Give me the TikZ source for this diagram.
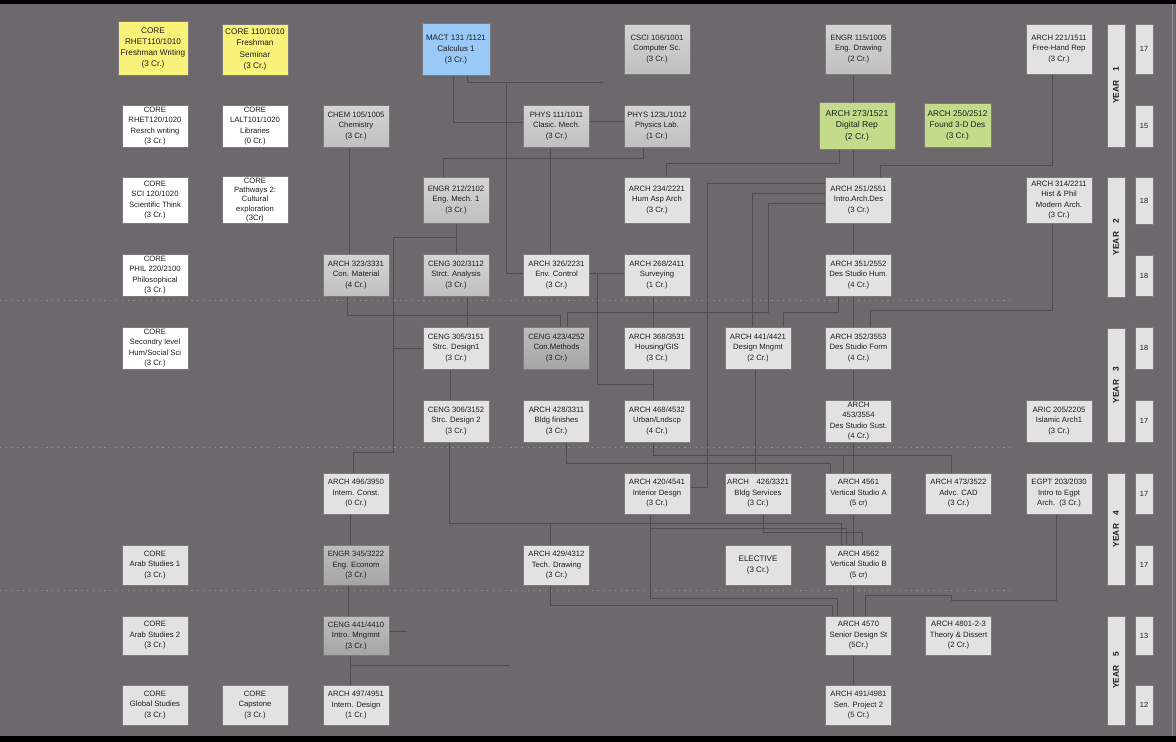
\documentclass[tikz,border=0pt]{standalone}
\usepackage{fontspec}
\setmainfont{Liberation Sans}
\usetikzlibrary{positioning}
\definecolor{canvas}{RGB}{109,104,108}
\definecolor{wire}{RGB}{80,76,80}
\definecolor{sepc}{RGB}{150,146,150}
\definecolor{edge}{RGB}{125,122,125}
\definecolor{ink}{RGB}{30,30,30}
\definecolor{lite}{RGB}{226,226,226}
\definecolor{midtop}{RGB}{212,212,212}
\definecolor{midbot}{RGB}{192,192,192}
\definecolor{darktop}{RGB}{190,190,190}
\definecolor{darkbot}{RGB}{165,165,165}
\definecolor{yel}{RGB}{248,242,122}
\definecolor{blu}{RGB}{153,201,247}
\definecolor{grn}{RGB}{196,219,140}
\pgfdeclarelayer{back}
\pgfdeclarelayer{wires}
\pgfsetlayers{back,wires,main}

\begin{document}
\begin{tikzpicture}[x=1pt, y=-1pt,
  box/.style={draw=edge, line width=0.5pt, minimum width=66pt, minimum height=42pt,
    inner sep=1pt, align=center, text=ink, font=\fontsize{7.7}{10.5}\selectfont},
  corebox/.style={box, fill=white},
  litebox/.style={box, fill=lite},
  graybox/.style={box, top color=midtop, bottom color=midbot},
  darkbox/.style={box, top color=darktop, bottom color=darkbot},
  yelbox/.style={box, fill=yel, font=\fontsize{8.2}{11.3}\selectfont},
  bluebox/.style={box, fill=blu, font=\fontsize{8}{11}\selectfont},
  greenbox/.style={box, fill=grn, font=\fontsize{8.6}{11.6}\selectfont},
  yearbar/.style={fill=lite, draw=edge, line width=0.5pt, rotate=90, minimum height=18pt,
    inner sep=0pt, text=ink, font=\bfseries\fontsize{8.4}{9}\selectfont},
  credbox/.style={fill=lite, draw=edge, line width=0.5pt, minimum width=18pt, inner sep=0pt,
    text=ink, font=\fontsize{7.4}{9}\selectfont},
  link/.style={draw=wire, line width=1pt},
  sep/.style={draw=sepc, line width=1pt, dash pattern=on 1.2pt off 4.6pt}
]
\useasboundingbox (0,0) rectangle (1176,742);

%% Year 1
\node[yelbox, minimum width=70pt, minimum height=54pt] (rhetA) at (153,48) {CORE\\RHET110/1010\\Freshman Writing\\(3 Cr.)};
\node[yelbox, minimum height=51pt] (semA) at (255,49.5) {CORE 110/1010\\Freshman\\Seminar\\(3 Cr.)};
\node[bluebox, minimum width=68pt, minimum height=52pt] (mact) at (456,49) {MACT 131 /1121\\Calculus 1\\(3 Cr.)};
\node[graybox, minimum height=50pt] (csci) at (657,49) {CSCI 106/1001\\Computer Sc.\\(3 Cr.)};
\node[graybox, minimum height=50pt] (engrD) at (858.5,49) {ENGR 115/1005\\Eng. Drawing\\(2 Cr.)};
\node[litebox, minimum height=50pt] (freehand) at (1059,49) {ARCH 221/1511\\Free-Hand Rep\\(3 Cr.)};

\node[corebox] (rhetB) at (155,126) {CORE\\RHET120/1020\\Resrch writing\\(3 Cr.)};
\node[corebox] (lalt) at (255,126) {CORE\\LALT101/1020\\Libraries\\(0 Cr.)};
\node[graybox] (chem) at (356,126) {CHEM 105/1005\\Chemistry\\(3 Cr.)};
\node[graybox] (phys) at (556.5,126) {PHYS 111/1011\\Clasic. Mech.\\(3 Cr.)};
\node[graybox] (physlab) at (657,126) {PHYS 123L/1012\\Physics Lab.\\(1 Cr.)};
\node[greenbox, minimum width=76pt, minimum height=47pt] (digrep) at (857,125.5) {ARCH 273/1521\\Digital Rep\\(2 Cr.)};
\node[greenbox, minimum width=67pt, minimum height=44pt, font=\fontsize{8.2}{11}\selectfont] (found) at (957.5,125) {ARCH 250/2512\\Found 3-D Des\\(3 Cr.)};

%% Year 2
\node[corebox, minimum height=46pt] (sci) at (155,200) {CORE\\SCI 120/1020\\Scientific Think\\(3 Cr.)};
\node[corebox, minimum height=46pt, font=\fontsize{7.7}{9.4}\selectfont] (pathw) at (255,200) {CORE\\Pathways 2:\\Cultural\\exploration\\(3Cr)};
\node[graybox, minimum height=46pt] (engmech) at (456,200) {ENGR 212/2102\\Eng. Mech. 1\\(3 Cr.)};
\node[litebox, minimum height=46pt] (humasp) at (657,200) {ARCH 234/2221\\Hum Asp Arch\\(3 Cr.)};
\node[litebox, minimum height=46pt] (introdes) at (858.5,200) {ARCH 251/2551\\Intro.Arch.Des\\(3 Cr.)};
\node[litebox, minimum height=46pt] (histphil) at (1059,200) {ARCH 314/2211\\Hist \& Phil\\Modern Arch.\\(3 Cr.)};

\node[corebox] (phil) at (155,275) {CORE\\PHIL 220/2100\\Philosophical\\(3 Cr.)};
\node[graybox] (conmat) at (356,275) {ARCH 323/3331\\Con. Material\\(4 Cr.)};
\node[graybox] (strana) at (456,275) {CENG 302/3112\\Strct. Analysis\\(3 Cr.)};
\node[litebox] (envctl) at (556.5,275) {ARCH 326/2231\\Env. Control\\(3 Cr.)};
\node[litebox] (survey) at (657,275) {ARCH 268/2411\\Surveying\\(1 Cr.)};
\node[litebox] (studhum) at (858.5,275) {ARCH 351/2552\\Des Studio Hum.\\(4 Cr.)};

%% Year 3
\node[corebox] (hum) at (155,348) {CORE\\Secondry level\\Hum/Social Sci\\(3 Cr.)};
\node[litebox] (strdesA) at (456,348) {CENG 305/3151\\Strc. Design1\\(3 Cr.)};
\node[darkbox] (conmeth) at (556.5,348) {CENG 423/4252\\Con.Methods\\(3 Cr.)};
\node[litebox] (housing) at (657,348) {ARCH 368/3531\\Housing/GIS\\(3 Cr.)};
\node[litebox] (desmng) at (758,348) {ARCH 441/4421\\Design Mngmt\\(2 Cr.)};
\node[litebox] (studform) at (858.5,348) {ARCH 352/3553\\Des Studio Form\\(4 Cr.)};

\node[litebox] (strdesB) at (456,421) {CENG 306/3152\\Strc. Design 2\\(3 Cr.)};
\node[litebox] (finish) at (556.5,421) {ARCH 428/3311\\Bldg finishes\\(3 Cr.)};
\node[litebox] (urban) at (657,421) {ARCH 468/4532\\Urban/Lndscp\\(4 Cr.)};
\node[litebox] (studsust) at (858.5,421) {ARCH\\453/3554\\Des Studio Sust.\\(4 Cr.)};
\node[litebox] (islamic) at (1059,421) {ARIC 205/2205\\Islamic Arch1\\(3 Cr.)};

%% Year 4
\node[litebox, minimum height=41pt] (intconst) at (356,493.5) {ARCH 496/3950\\Intern. Const.\\(0 Cr.)};
\node[litebox, minimum height=41pt] (interior) at (657,493.5) {ARCH 420/4541\\Interior Desgn\\(3 Cr.)};
\node[litebox, minimum height=41pt] (services) at (758,493.5) {ARCH\quad 426/3321\\Bldg Services\\(3 Cr.)};
\node[litebox, minimum height=41pt] (vsa) at (858.5,493.5) {ARCH 4561\\Vertical Studio A\\(5 cr)};
\node[litebox, minimum height=41pt] (cad) at (958.5,493.5) {ARCH 473/3522\\Advc. CAD\\(3 Cr.)};
\node[litebox, minimum height=41pt] (egpt) at (1059,493.5) {EGPT 203/2030\\Intro to Egpt\\Arch.\ \ (3 Cr.)};

\node[litebox, minimum height=40pt] (arabA) at (155,565) {CORE\\Arab Studies 1\\(3 Cr.)};
\node[darkbox, minimum height=40pt] (econ) at (356,565) {ENGR 345/3222\\Eng. Econom\\(3 Cr.)};
\node[litebox, minimum height=40pt] (techdr) at (556.5,565) {ARCH 429/4312\\Tech. Drawing\\(3 Cr.)};
\node[litebox, minimum height=40pt, font=\fontsize{8}{11}\selectfont] (elective) at (758,565) {ELECTIVE\\(3 Cr.)};
\node[litebox, minimum height=40pt] (vsb) at (858.5,565) {ARCH 4562\\Vertical Studio B\\(5 cr)};

%% Year 5
\node[litebox, minimum height=39pt] (arabB) at (155,635.5) {CORE\\Arab Studies 2\\(3 Cr.)};
\node[darkbox, minimum height=39pt] (mngmt) at (356,635.5) {CENG 441/4410\\Intro. Mngmnt\\(3 Cr.)};
\node[litebox, minimum height=39pt] (senior) at (858.5,635.5) {ARCH 4570\\Senior Design St\\(5Cr.)};
\node[litebox, minimum height=39pt] (theory) at (958.5,635.5) {ARCH 4801-2-3\\Theory \& Dissert\\(2 Cr.)};

\node[litebox, minimum height=40pt] (global) at (155,705) {CORE\\Global Studies\\(3 Cr.)};
\node[litebox, minimum height=40pt] (capst) at (255,705) {CORE\\Capstone\\(3 Cr.)};
\node[litebox, minimum height=40pt] (intdes) at (356,705) {ARCH 497/4951\\Intern. Design\\(1 Cr.)};
\node[litebox, minimum height=40pt] (senproj) at (858.5,705) {ARCH 491/4981\\Sen. Project 2\\(5 Cr.)};

%% Year bars and credits
\node[yearbar, minimum width=123pt] (yr1) at (1116,85.5) {YEAR\quad 1};
\node[yearbar, minimum width=120pt] (yr2) at (1116,237) {YEAR\quad 2};
\node[yearbar, minimum width=114pt] (yr3) at (1116,385) {YEAR\quad 3};
\node[yearbar, minimum width=112pt] (yr4) at (1116,529) {YEAR\quad 4};
\node[yearbar, minimum width=109pt] (yr5) at (1116,670.5) {YEAR\quad 5};

\node[credbox, minimum height=50pt] (cr1) at (1144,49) {17};
\node[credbox, minimum height=42pt] (cr2) at (1144,126) {15};
\node[credbox, minimum height=47pt] (cr3) at (1144,200.5) {18};
\node[credbox, minimum height=41pt] (cr4) at (1144,275.5) {18};
\node[credbox, minimum height=42pt] (cr5) at (1144,348) {18};
\node[credbox, minimum height=42pt] (cr6) at (1144,421) {17};
\node[credbox, minimum height=41pt] (cr7) at (1144,493.5) {17};
\node[credbox, minimum height=40pt] (cr8) at (1144,565) {17};
\node[credbox, minimum height=39pt] (cr9) at (1144,635.5) {13};
\node[credbox, minimum height=40pt] (cr10) at (1144,705) {12};

%% Background, frame and semester dividers
\begin{pgfonlayer}{back}
\fill[canvas] (0,0) rectangle (1176,742);
\fill[black] (0,0) rectangle (1176,4);
\fill[black] (0,736) rectangle (1176,742);
\draw[sepc, line width=1pt] (1172,4) -- (1172,736);
\draw[sep] (0,300) -- (1010,300);
\draw[sep] (0,447) -- (1010,447);
\draw[sep] (0,590) -- (1010,590);
\end{pgfonlayer}

%% Prerequisite lines
\begin{pgfonlayer}{wires}
\coordinate (mstub) at (603,82);
\coordinate (dstub) at (510,665);
\draw[link] ([xshift=-3pt]mact.south) |- ([yshift=4pt]phys.west);
\draw[link] ([xshift=11pt]mact.south) |- (mstub);
\draw[link] ([xshift=50pt]mact.south) ++(0,7) |- ([yshift=2pt]envctl.west);
\draw[link] ([yshift=5pt]phys.east) -- ([yshift=5pt]physlab.west);
\draw[link] ([xshift=-6pt]phys.south) -- ([xshift=-6pt]envctl.north);
\draw[link] ([xshift=-14pt]physlab.south) -- ++(0,11) -| ([xshift=-13pt]engmech.north);
\draw[link] ([xshift=-7pt]chem.south) -- ([xshift=-7pt]conmat.north);

%% design studio chain
\draw[link] ([xshift=-5pt]engrD.south) -- ([xshift=-3.5pt]digrep.north);
\draw[link] ([xshift=-3.5pt]digrep.south) -- ([xshift=-5pt]introdes.north);
\draw[link] ([xshift=-5pt]introdes.south) -- ([xshift=-5pt]studhum.north);
\draw[link] ([xshift=-5pt]studhum.south) -- ([xshift=-5pt]studform.north);
\draw[link] ([xshift=-5pt]studform.south) -- ([xshift=-5pt]studsust.north);
\draw[link] ([xshift=-5pt]studsust.south) -- ([xshift=-5pt]vsa.north);
\draw[link] ([xshift=-5pt]vsa.south) -- ([xshift=-5pt]vsb.north);
\draw[link] ([xshift=-5pt]vsb.south) -- ([xshift=-5pt]senior.north);
\draw[link] ([xshift=-5pt]senior.south) -- ([xshift=-5pt]senproj.north);

\draw[link] ([xshift=-18pt]digrep.south) -- ++(0,14) -| ([xshift=9pt]humasp.north);
\draw[link] ([xshift=-7pt]freehand.south) -- ++(0,91) -| ([xshift=22pt]introdes.north);
\draw[link] ([xshift=-7pt]histphil.south) -- ++(0,87) -| ([xshift=12pt]studform.north);
\draw[link] ([yshift=17pt]introdes.west) -- ++(-118,0) |- ([yshift=6pt]interior.east);
\draw[link] ([yshift=7pt]introdes.west) -| ([xshift=-6pt]desmng.north);
\draw[link] ([yshift=-3pt]introdes.west) -- ++(-57,0) -- ++(0,109) -| ([xshift=11pt]conmeth.north);
\draw[link] ([xshift=-9pt]conmat.south) -- ++(0,19) -| ([xshift=4pt]conmeth.north);
\draw[link] ([xshift=-20pt]studhum.south) -- ++(0,16) -| ([xshift=25pt]desmng.north);

%% structures
\draw[link] (engmech.south) -- (strana.north);
\draw[link] ([xshift=11pt]strana.south) -- ([xshift=11pt]strdesA.north);
\draw[link] ([xshift=-6pt]strdesA.south) -- ([xshift=-6pt]strdesB.north);
\draw[link] (engmech.south) -- ++(0,14) -- ++(-63,0) -- ++(0,215) -| ([xshift=-3pt]intconst.north);
\draw[link] ([xshift=-30pt]strdesA.west) -- (strdesA.west);

%% environment and planning
\draw[link] ([yshift=2pt]envctl.east) -- ([yshift=2pt]survey.west);
\draw[link] ([yshift=2pt]envctl.east) -- ++(8,0) -- ++(0,111) -| ([xshift=-4pt]urban.north);
\draw[link] ([xshift=-4pt]survey.south) -- ([xshift=-4pt]housing.north);
\draw[link] ([xshift=-4pt]housing.south) -- ([xshift=-4pt]urban.north);
\draw[link] ([xshift=-3pt]desmng.south) -- ([xshift=-3pt]services.north);

%% into the vertical studios
\draw[link] ([xshift=10pt]finish.south) -- ++(0,21) -| ([xshift=-28pt]vsa.north);
\draw[link] ([xshift=-4pt]urban.south) -- ++(0,13) -| ([xshift=-7pt]cad.north);
\draw[link] ([xshift=-15pt]vsa.north) -- ++(0,-18);
\draw[link] ([xshift=-7pt]strdesB.south) -- ++(0,81) -| ([xshift=-17pt]vsb.north);
\draw[link] ([xshift=-6pt]techdr.north) -- ++(0,-22);
\draw[link] ([xshift=-7pt]interior.south) -- ++(0,14) -| ([xshift=-12pt]vsb.north);
\draw[link] ([xshift=5pt]services.south) -- ++(0,18) -| ([xshift=4pt]vsb.north);

%% into the senior studio
\draw[link] ([xshift=-7pt]interior.south) -- ++(0,84) -| ([xshift=-21pt]senior.north);
\draw[link] ([xshift=-6pt]techdr.south) -- ++(0,20) -| ([xshift=-26pt]senior.north);
\draw[link] ([xshift=-3pt]egpt.south) -- ++(0,86) -- ++(-105,0) -- ++(0,-5) -| ([xshift=7pt]senior.north);

%% internships and management
\draw[link] ([xshift=-6pt]intconst.south) -- ([xshift=-6pt]econ.north);
\draw[link] ([xshift=-8pt]econ.south) -- ([xshift=-8pt]mngmt.north);
\draw[link] ([xshift=-6pt]mngmt.south) -- ([xshift=-6pt]intdes.north);
\draw[link] ([xshift=-6pt]intdes.north) |- (dstub);
\draw[link] ([yshift=4pt]mngmt.east) -- ++(18,0);
\end{pgfonlayer}

\end{tikzpicture}
\end{document}
